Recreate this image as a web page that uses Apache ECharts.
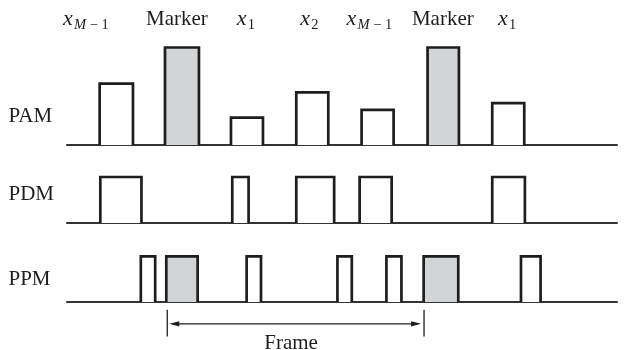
<!DOCTYPE html>
<html><head><meta charset="utf-8">
<script src="https://cdn.jsdelivr.net/npm/echarts@6/dist/echarts.min.js"></script>
<style>html,body{margin:0;padding:0;background:#fff}#c{width:627px;height:350px}</style>
</head><body><div id="c"></div>
<script>
// time axis: one slot = 1 unit
const pamStart  = [0.50, 1.50, 2.51, 3.51, 4.51, 5.52, 6.51];
const pamEnd    = [1.01, 2.02, 3.00, 4.00, 5.00, 6.00, 7.00];
const pamAmp    = [0.63, 1.00, 0.28, 0.54, 0.36, 1.00, 0.43];
const pamMarker = [0, 1, 0, 0, 0, 1, 0];
const pdmStart  = [0.51, 2.53, 3.51, 4.48, 6.51];
const pdmEnd    = [1.14, 2.78, 4.09, 4.97, 7.01];
const ppmStart  = [1.13, 1.52, 2.75, 4.14, 4.89, 5.46, 6.95];
const ppmEnd    = [1.35, 2.00, 2.97, 4.36, 5.12, 5.99, 7.25];
const ppmMarker = [0, 1, 0, 0, 0, 1, 0];
const labelMain = ['x', 'Marker', 'x', 'x', 'x', 'Marker', 'x'];
const labelSub  = ['M − 1', '', '1', '2', 'M − 1', '', '1'];
const labelPos  = [-0.06, 1.21, 2.60, 3.57, 4.28, 5.28, 6.60];
const labelLevel = 1.29;
const rowNames  = ['PAM', 'PDM', 'PPM'];
const frameRange = [1.535, 5.466];
const frameLevel = -0.477;
const frameLabel = 'Frame';
const frameLabelPos = [3.43, -0.90];
const tMax = 8.42;

const FONT = '"Liberation Serif", "Times New Roman", "DejaVu Serif", serif';
const INK = '#1e1e1e';
const GRAY = '#d3d4d6';

function pulse(params, api) {
  const a = api.coord([api.value(0), 0]);
  const b = api.coord([api.value(1), api.value(2)]);
  const x0 = a[0], x1 = b[0], y0 = a[1], y1 = b[1];
  return {type: 'group', children: [
    {type: 'rect', shape: {x: x0, y: y1, width: x1 - x0, height: y0 - y1},
     style: {fill: api.value(3) ? GRAY : '#fff'}},
    {type: 'polyline', shape: {points: [[x0, y0], [x0, y1], [x1, y1], [x1, y0]]},
     style: {fill: 'none', stroke: INK, lineWidth: 2.7, lineJoin: 'miter'}}
  ]};
}

function label(params, api) {
  const i = api.value(2);
  const p = api.coord([api.value(0), api.value(1)]);
  if (!labelSub[i]) {
    return {type: 'text', x: p[0], y: p[1],
      style: {text: labelMain[i], fontSize: 21, fontFamily: FONT, fill: INK, align: 'left', verticalAlign: 'middle'}};
  }
  const sub = labelSub[i].charAt(0) === 'M'
    ? '{i|M}{n|' + labelSub[i].slice(1) + '}'
    : '{n|' + labelSub[i] + '}';
  return {type: 'group', children: [
    {type: 'text', x: p[0], y: p[1],
     style: {text: labelMain[i], fontSize: 22, fontStyle: 'italic', fontFamily: FONT, fill: INK, align: 'left', verticalAlign: 'middle'}},
    {type: 'text', x: p[0] + 11, y: p[1] + 5.5,
     style: {text: sub, fontSize: 14.5, fontFamily: FONT, fill: INK, align: 'left', verticalAlign: 'middle',
       rich: {i: {fontStyle: 'italic', fontSize: 14.5, fontFamily: FONT, fill: INK}, n: {fontSize: 14.5, fontFamily: FONT, fill: INK}}}}
  ]};
}

function frame(params, api) {
  const a = api.coord([api.value(0), api.value(2)]);
  const b = api.coord([api.value(1), api.value(2)]);
  const y = a[1];
  const L = a[0], R = b[0];
  const t = api.coord([api.value(3), api.value(4)]);
  return {type: 'group', children: [
    {type: 'line', shape: {x1: L, y1: y - 14, x2: L, y2: y + 12.7}, style: {stroke: INK, lineWidth: 1.3}},
    {type: 'line', shape: {x1: R, y1: y - 14, x2: R, y2: y + 12.7}, style: {stroke: INK, lineWidth: 1.3}},
    {type: 'line', shape: {x1: L + 6, y1: y, x2: R - 6, y2: y}, style: {stroke: INK, lineWidth: 1.3}},
    {type: 'polygon', shape: {points: [[L + 2, y], [L + 12, y - 2.6], [L + 12, y + 2.6]]}, style: {fill: INK}},
    {type: 'polygon', shape: {points: [[R - 3, y], [R - 13, y - 2.6], [R - 13, y + 2.6]]}, style: {fill: INK}},
    {type: 'text', x: t[0], y: t[1], style: {text: frameLabel, fontSize: 21, fontFamily: FONT, fill: INK, align: 'center', verticalAlign: 'middle'}}
  ]};
}

const grids = [
  {left: 67, width: 550, top: 47.5, height: 97.5},
  {left: 67, width: 550, top: 177, height: 46},
  {left: 67, width: 550, top: 256.3, height: 45.7}
];
const xAxes = grids.map((g, i) => ({
  type: 'value', gridIndex: i, min: 0, max: tMax,
  axisLine: {show: true, onZero: true, lineStyle: {color: '#333', width: 2}},
  axisTick: {show: false}, axisLabel: {show: false}, splitLine: {show: false}
}));
const yAxes = grids.map((g, i) => ({type: 'value', gridIndex: i, min: 0, max: 1, show: false, splitLine: {show: false}}));

const rowY = [117, 194.5, 280];

const chart = echarts.init(document.getElementById('c'), null, {renderer: 'canvas'});
chart.setOption({
  animation: false,
  backgroundColor: '#fff',
  grid: grids,
  xAxis: xAxes,
  yAxis: yAxes,
  graphic: rowNames.map((n, i) => ({
    type: 'text', left: 8.5, top: rowY[i] - 11,
    style: {text: n, fontSize: 21, fontFamily: FONT, fill: INK}
  })),
  series: [
    {type: 'custom', xAxisIndex: 0, yAxisIndex: 0, renderItem: pulse, encode: {x: [0, 1], y: 2},
     data: pamStart.map((s, i) => [s, pamEnd[i], pamAmp[i], pamMarker[i]])},
    {type: 'custom', xAxisIndex: 1, yAxisIndex: 1, renderItem: pulse, encode: {x: [0, 1], y: 2},
     data: pdmStart.map((s, i) => [s, pdmEnd[i], 1, 0])},
    {type: 'custom', xAxisIndex: 2, yAxisIndex: 2, renderItem: pulse, encode: {x: [0, 1], y: 2},
     data: ppmStart.map((s, i) => [s, ppmEnd[i], 1, ppmMarker[i]])},
    {type: 'custom', xAxisIndex: 0, yAxisIndex: 0, renderItem: label, encode: {x: 0, y: 1},
     data: labelPos.map((p, i) => [p, labelLevel, i])},
    {type: 'custom', xAxisIndex: 2, yAxisIndex: 2, renderItem: frame, encode: {x: [0, 1], y: 2},
     data: [[frameRange[0], frameRange[1], frameLevel, frameLabelPos[0], frameLabelPos[1]]]}
  ]
});
</script>
</body></html>
